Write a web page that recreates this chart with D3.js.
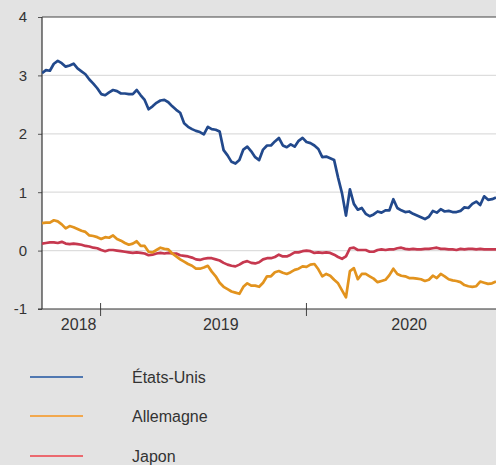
<!DOCTYPE html>
<html><head><meta charset="utf-8">
<script src="https://cdn.jsdelivr.net/npm/d3@7"></script>
<style>html,body{margin:0;padding:0;background:#e3e3e3;}svg{display:block;}</style>
</head><body>
<svg id="c" width="496" height="465"></svg>
<script>
const dates = [
"2018-09-20","2018-09-27","2018-10-04","2018-10-11","2018-10-18","2018-10-25","2018-11-01","2018-11-08","2018-11-15","2018-11-22","2018-11-29","2018-12-06","2018-12-13","2018-12-20","2018-12-27",
"2019-01-03","2019-01-10","2019-01-17","2019-01-24","2019-01-31","2019-02-07","2019-02-14","2019-02-21","2019-02-28","2019-03-07","2019-03-14","2019-03-21","2019-03-28","2019-04-04","2019-04-11","2019-04-18","2019-04-25","2019-05-02","2019-05-09","2019-05-16","2019-05-23","2019-05-30","2019-06-06","2019-06-13","2019-06-20","2019-06-27","2019-07-04","2019-07-11","2019-07-18","2019-07-25","2019-08-01","2019-08-08","2019-08-15","2019-08-22","2019-08-29","2019-09-05","2019-09-12","2019-09-19","2019-09-26","2019-10-03","2019-10-10","2019-10-17","2019-10-24","2019-10-31","2019-11-07","2019-11-14","2019-11-21","2019-11-28","2019-12-05","2019-12-12","2019-12-19","2019-12-26",
"2020-01-02","2020-01-09","2020-01-16","2020-01-23","2020-01-30","2020-02-06","2020-02-13","2020-02-20","2020-02-27","2020-03-05","2020-03-12","2020-03-19","2020-03-26","2020-04-02","2020-04-09","2020-04-16","2020-04-23","2020-04-30","2020-05-07","2020-05-14","2020-05-21","2020-05-28","2020-06-04","2020-06-11","2020-06-18","2020-06-25","2020-07-02","2020-07-09","2020-07-16","2020-07-23","2020-07-30","2020-08-06","2020-08-13","2020-08-20","2020-08-27","2020-09-03","2020-09-10","2020-09-17","2020-09-24","2020-10-01","2020-10-08","2020-10-15","2020-10-22","2020-10-29","2020-11-05","2020-11-12","2020-11-19","2020-11-26","2020-12-03"];

const etatsUnis = [3.04,3.09,3.08,3.20,3.25,3.21,3.15,3.17,3.20,3.12,3.07,3.02,2.93,2.86,2.78,
2.68,2.66,2.71,2.75,2.73,2.69,2.69,2.68,2.68,2.75,2.66,2.58,2.42,2.47,2.53,2.57,2.58,2.54,2.47,2.41,2.36,2.18,2.12,2.08,2.05,2.03,1.99,2.12,2.08,2.07,2.04,1.72,1.63,1.52,1.49,1.55,1.73,1.78,1.70,1.60,1.55,1.73,1.80,1.80,1.87,1.93,1.80,1.77,1.82,1.78,1.88,1.93,
1.86,1.84,1.80,1.74,1.60,1.61,1.58,1.55,1.25,0.98,0.60,1.05,0.80,0.70,0.73,0.63,0.59,0.62,0.67,0.65,0.69,0.69,0.88,0.73,0.69,0.66,0.67,0.63,0.60,0.57,0.54,0.58,0.68,0.65,0.71,0.67,0.68,0.66,0.66,0.68,0.74,0.73,0.80,0.84,0.78,0.93,0.87,0.88,0.91];

const allemagne = [0.47,0.48,0.48,0.52,0.50,0.45,0.38,0.42,0.40,0.37,0.34,0.32,0.26,0.25,0.23,
0.20,0.23,0.22,0.26,0.20,0.17,0.13,0.10,0.12,0.16,0.08,0.08,-0.02,-0.03,0.01,0.05,0.03,0.02,-0.05,-0.10,-0.15,-0.19,-0.23,-0.26,-0.31,-0.31,-0.29,-0.26,-0.36,-0.44,-0.55,-0.62,-0.66,-0.70,-0.72,-0.74,-0.62,-0.56,-0.60,-0.60,-0.62,-0.55,-0.44,-0.44,-0.37,-0.35,-0.38,-0.40,-0.37,-0.33,-0.31,-0.27,
-0.28,-0.24,-0.23,-0.32,-0.44,-0.40,-0.43,-0.50,-0.56,-0.68,-0.80,-0.35,-0.30,-0.49,-0.40,-0.40,-0.44,-0.48,-0.54,-0.52,-0.50,-0.42,-0.31,-0.40,-0.43,-0.44,-0.47,-0.47,-0.48,-0.49,-0.52,-0.50,-0.43,-0.47,-0.40,-0.44,-0.49,-0.51,-0.52,-0.54,-0.59,-0.61,-0.62,-0.61,-0.53,-0.55,-0.57,-0.56,-0.53];

const japon = [0.12,0.13,0.14,0.14,0.13,0.15,0.12,0.11,0.12,0.11,0.10,0.08,0.07,0.05,0.04,
0.01,-0.01,0.01,0.01,0.00,-0.01,-0.02,-0.03,-0.04,-0.03,-0.04,-0.05,-0.08,-0.07,-0.05,-0.04,-0.05,-0.04,-0.05,-0.05,-0.08,-0.09,-0.10,-0.12,-0.15,-0.16,-0.14,-0.13,-0.13,-0.15,-0.17,-0.21,-0.24,-0.26,-0.27,-0.24,-0.20,-0.18,-0.21,-0.22,-0.20,-0.15,-0.13,-0.13,-0.11,-0.07,-0.10,-0.10,-0.07,-0.03,-0.03,-0.01,
0.00,-0.01,-0.04,-0.03,-0.04,-0.03,-0.04,-0.07,-0.11,-0.14,-0.10,0.04,0.05,0.01,0.01,0.01,-0.02,-0.02,0.01,0.02,0.01,0.02,0.02,0.04,0.05,0.03,0.02,0.03,0.02,0.02,0.03,0.03,0.04,0.05,0.03,0.03,0.02,0.02,0.01,0.03,0.02,0.03,0.03,0.02,0.03,0.02,0.02,0.02,0.02];

const seriesNames = ["États-Unis","Allemagne","Japon"];
const lineColors = ["#22498c","#e2931e","#c6384f"];
const legendColors = ["#1f55a0","#f7941d","#ee4049"];
const yTicks = [-1,0,1,2,3,4];
const xTickDates = ["2019-01-01","2020-01-01"];
const xLabels = ["2018","2019","2020"];
const xLabelDates = ["2018-11-24","2019-08-03","2020-07-02"];

(function(){
const parse = d3.timeParse("%Y-%m-%d");
const svg = d3.select("#c");
const L = 42, R = 496, T = 17, B = 309;
const font = "Liberation Sans, Arial, sans-serif";

const x = d3.scaleTime().domain([parse("2018-09-20"), parse("2020-12-03")]).range([L, R]);
const y = d3.scaleLinear().domain([-1, 4]).range([B, T]);

svg.append("rect").attr("x",0).attr("y",0).attr("width",496).attr("height",465).attr("fill","#e3e3e3");
svg.append("rect").attr("x",L).attr("y",T).attr("width",R-L+2).attr("height",B-T).attr("fill","#fff");

svg.append("g").selectAll("line").data(yTicks.filter(t=>t>-1 && t<4)).join("line")
  .attr("x1",L).attr("x2",R).attr("y1",d=>y(d)).attr("y2",d=>y(d))
  .attr("stroke","#dddddd").attr("stroke-width",1.2);

const yAxis = d3.axisLeft(y).tickValues(yTicks).tickSize(4).tickPadding(11).tickFormat(d=>String(d));
const gy = svg.append("g").attr("transform",`translate(${L},0)`).call(yAxis);
gy.select(".domain").remove();
gy.selectAll(".tick line").attr("stroke","#555");
gy.selectAll(".tick text").attr("font-family",font).attr("font-size",15).attr("fill","#333");
svg.append("line").attr("x1",L).attr("x2",L).attr("y1",T).attr("y2",B).attr("stroke","#333").attr("stroke-width",1.2);
svg.append("line").attr("x1",L).attr("x2",R).attr("y1",T).attr("y2",T).attr("stroke","#444").attr("stroke-width",1.2);

const gx = svg.append("g").attr("transform",`translate(0,${B})`)
  .call(d3.axisBottom(x).tickValues(xTickDates.map(parse)).tickSize(7).tickFormat(""));
gx.select(".domain").remove();
gx.selectAll(".tick line").attr("y1",-6).attr("y2",7).attr("stroke","#444");
svg.append("line").attr("x1",38).attr("x2",R).attr("y1",B).attr("y2",B).attr("stroke","#333").attr("stroke-width",1.2);
svg.append("g").selectAll("text").data(xLabels).join("text")
  .attr("x",(d,i)=>x(parse(xLabelDates[i]))).attr("y",329.5)
  .attr("text-anchor","middle").attr("font-family",font).attr("font-size",16).attr("fill","#333")
  .text(d=>d);

svg.append("clipPath").attr("id","clip").append("rect").attr("x",L).attr("y",T).attr("width",R-L).attr("height",B-T);
const line = d3.line().x((d,i)=>x(parse(dates[i]))).y(d=>y(d));
const allSeries = [etatsUnis, allemagne, japon];
svg.append("g").attr("clip-path","url(#clip)").selectAll("path").data([2,1,0]).join("path")
  .attr("d",k=>line(allSeries[k])).attr("fill","none").attr("stroke",k=>lineColors[k])
  .attr("stroke-width",2.7).attr("stroke-linejoin","round");

const leg = svg.append("g").selectAll("g").data(seriesNames).join("g")
  .attr("transform",(d,i)=>`translate(0,${[377,416,456][i]})`);
leg.append("line").attr("x1",30).attr("x2",83).attr("y1",0).attr("y2",0).attr("stroke",(d,i)=>legendColors[i]).attr("stroke-width",1.6);
leg.append("text").attr("x",132).attr("y",5.5).attr("font-family",font).attr("font-size",16).attr("fill","#333").text(d=>d);
})();
</script>
</body></html>
